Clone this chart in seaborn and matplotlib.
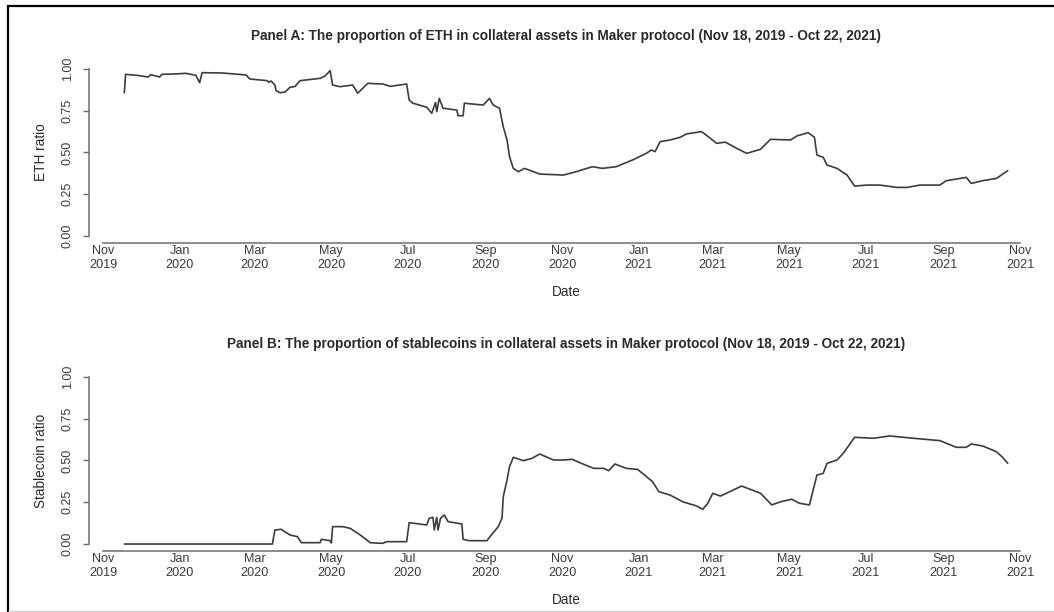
import matplotlib
matplotlib.use("Agg")
import matplotlib.pyplot as plt
import matplotlib.dates as mdates
from matplotlib.lines import Line2D
import pandas as pd
import seaborn as sns

# ---- data -------------------------------------------------------------
eth_dates = [
    "2019-11-18", "2019-11-19", "2019-11-28", "2019-12-07", "2019-12-09", "2019-12-16",
    "2019-12-18", "2019-12-28", "2020-01-06", "2020-01-14", "2020-01-17", "2020-01-19",
    "2020-02-04", "2020-02-14", "2020-02-23", "2020-02-26", "2020-03-11", "2020-03-12",
    "2020-03-14", "2020-03-17", "2020-03-18", "2020-03-21", "2020-03-25", "2020-03-29",
    "2020-04-02", "2020-04-06", "2020-04-22", "2020-04-26", "2020-04-30", "2020-05-02",
    "2020-05-08", "2020-05-18", "2020-05-22", "2020-05-30", "2020-06-11", "2020-06-17",
    "2020-06-30", "2020-07-02", "2020-07-05", "2020-07-16", "2020-07-20", "2020-07-23",
    "2020-07-24", "2020-07-26", "2020-07-29", "2020-08-09", "2020-08-10", "2020-08-14",
    "2020-08-15", "2020-08-30", "2020-09-04", "2020-09-07", "2020-09-12", "2020-09-15",
    "2020-09-18", "2020-09-20", "2020-09-23", "2020-09-27", "2020-10-02", "2020-10-14",
    "2020-11-02", "2020-11-12", "2020-11-25", "2020-12-03", "2020-12-14", "2020-12-27",
    "2021-01-07", "2021-01-11", "2021-01-14", "2021-01-18", "2021-01-26", "2021-02-03",
    "2021-02-08", "2021-02-20", "2021-02-25", "2021-03-04", "2021-03-11", "2021-03-20",
    "2021-03-28", "2021-04-08", "2021-04-16", "2021-05-02", "2021-05-07", "2021-05-16",
    "2021-05-21", "2021-05-23", "2021-05-28", "2021-05-31", "2021-06-08", "2021-06-16",
    "2021-06-22", "2021-07-02", "2021-07-12", "2021-07-26", "2021-08-03", "2021-08-13",
    "2021-08-29", "2021-09-03", "2021-09-19", "2021-09-23", "2021-10-02", "2021-10-13",
    "2021-10-17", "2021-10-22",
]
eth_ratio = [
    0.858, 0.968, 0.962, 0.952, 0.966, 0.952,
    0.968, 0.970, 0.974, 0.962, 0.918, 0.978,
    0.976, 0.970, 0.964, 0.940, 0.930, 0.920,
    0.928, 0.904, 0.870, 0.858, 0.862, 0.890,
    0.895, 0.930, 0.944, 0.958, 0.990, 0.904,
    0.894, 0.904, 0.855, 0.914, 0.910, 0.896,
    0.910, 0.814, 0.795, 0.771, 0.735, 0.800,
    0.745, 0.824, 0.765, 0.754, 0.720, 0.720,
    0.795, 0.784, 0.824, 0.784, 0.765, 0.654,
    0.575, 0.475, 0.405, 0.385, 0.405, 0.371,
    0.365, 0.385, 0.415, 0.405, 0.415, 0.455,
    0.495, 0.515, 0.505, 0.565, 0.575, 0.591,
    0.611, 0.625, 0.597, 0.555, 0.562, 0.525,
    0.495, 0.519, 0.579, 0.575, 0.599, 0.619,
    0.591, 0.485, 0.471, 0.425, 0.405, 0.365,
    0.299, 0.305, 0.305, 0.291, 0.291, 0.305,
    0.305, 0.331, 0.351, 0.315, 0.331, 0.345,
    0.365, 0.391,
]

stable_dates = [
    "2019-11-18", "2020-03-15", "2020-03-17", "2020-03-22", "2020-03-29", "2020-04-04",
    "2020-04-07", "2020-04-22", "2020-04-23", "2020-04-30", "2020-05-01", "2020-05-02",
    "2020-05-10", "2020-05-16", "2020-05-24", "2020-06-01", "2020-06-11", "2020-06-14",
    "2020-06-30", "2020-07-02", "2020-07-16", "2020-07-18", "2020-07-21", "2020-07-22",
    "2020-07-24", "2020-07-25", "2020-07-27", "2020-07-30", "2020-08-02", "2020-08-13",
    "2020-08-14", "2020-08-19", "2020-09-02", "2020-09-04", "2020-09-11", "2020-09-14",
    "2020-09-15", "2020-09-18", "2020-09-20", "2020-09-23", "2020-10-01", "2020-10-08",
    "2020-10-14", "2020-10-25", "2020-11-02", "2020-11-09", "2020-11-15", "2020-11-26",
    "2020-12-04", "2020-12-08", "2020-12-13", "2020-12-22", "2020-12-31", "2021-01-04",
    "2021-01-12", "2021-01-17", "2021-01-26", "2021-02-05", "2021-02-16", "2021-02-21",
    "2021-02-25", "2021-03-01", "2021-03-07", "2021-03-24", "2021-04-08", "2021-04-17",
    "2021-04-24", "2021-05-03", "2021-05-09", "2021-05-17", "2021-05-23", "2021-05-28",
    "2021-05-31", "2021-06-08", "2021-06-13", "2021-06-22", "2021-07-07", "2021-07-20",
    "2021-08-08", "2021-08-29", "2021-09-11", "2021-09-19", "2021-09-23", "2021-10-02",
    "2021-10-13", "2021-10-18", "2021-10-22",
]
stable_ratio = [
    0.000, 0.000, 0.084, 0.088, 0.054, 0.044,
    0.008, 0.008, 0.028, 0.020, 0.006, 0.104,
    0.104, 0.094, 0.054, 0.008, 0.004, 0.014,
    0.014, 0.128, 0.114, 0.154, 0.160, 0.084,
    0.160, 0.084, 0.154, 0.174, 0.134, 0.120,
    0.028, 0.020, 0.020, 0.040, 0.104, 0.154,
    0.283, 0.383, 0.463, 0.519, 0.499, 0.513,
    0.539, 0.503, 0.503, 0.507, 0.487, 0.453,
    0.453, 0.439, 0.479, 0.453, 0.447, 0.423,
    0.373, 0.313, 0.293, 0.253, 0.228, 0.208,
    0.244, 0.304, 0.287, 0.347, 0.304, 0.234,
    0.253, 0.268, 0.244, 0.234, 0.413, 0.423,
    0.483, 0.503, 0.543, 0.639, 0.633, 0.647,
    0.633, 0.619, 0.579, 0.579, 0.599, 0.587,
    0.553, 0.519, 0.483,
]

y_ticks = [0.00, 0.25, 0.50, 0.75, 1.00]
y_tick_labels = ["0.00", "0.25", "0.50", "0.75", "1.00"]

panel_titles = [
    "Panel A: The proportion of ETH in collateral assets in Maker protocol (Nov 18, 2019 - Oct 22, 2021)",
    "Panel B: The proportion of stablecoins in collateral assets in Maker protocol (Nov 18, 2019 - Oct 22, 2021)",
]
y_labels = ["ETH ratio", "Stablecoin ratio"]
x_label = "Date"

# ---- style ------------------------------------------------------------
sns.set_style("white")
plt.rcParams["font.family"] = ["Liberation Sans", "DejaVu Sans"]

W, H = 1054, 612
fig = plt.figure(figsize=(W / 100, H / 100), dpi=100)
fig.patch.set_facecolor("white")

line_col = "#3c3c3c"
axis_col = "#6e6e6e"
text_col = "#2a2a2a"
tick_col = "#3a3a3a"

eth_df = pd.DataFrame({"date": pd.to_datetime(eth_dates), "ratio": eth_ratio})
stable_df = pd.DataFrame({"date": pd.to_datetime(stable_dates), "ratio": stable_ratio})

start = eth_df["date"].min()
end = eth_df["date"].max()
span = end - start
xlim = (start - 0.04 * span, end + 0.04 * span)
tick_dates = pd.date_range("2019-11-01", "2021-11-01", freq="2MS")

# pixel geometry of the two plot regions
left_px, right_px = 89, 1043
regions = [(62.3, 242.7), (370.3, 550.7)]
label_x_px = 41

for i, (df, (top_px, bot_px)) in enumerate(zip([eth_df, stable_df], regions)):
    ax = fig.add_axes([left_px / W, 1 - bot_px / H,
                       (right_px - left_px) / W, (bot_px - top_px) / H])
    sns.lineplot(data=df, x="date", y="ratio", ax=ax, color=line_col,
                 linewidth=1.2, estimator=None)
    ax.set_xlim(*xlim)
    ax.set_ylim(-0.04, 1.04)

    for s in ["top", "right"]:
        ax.spines[s].set_visible(False)
    for s in ["left", "bottom"]:
        ax.spines[s].set_color(axis_col)
        ax.spines[s].set_linewidth(1.1)
    ax.spines["left"].set_bounds(0, 1)
    ax.spines["bottom"].set_bounds(mdates.date2num(tick_dates[0]),
                                   mdates.date2num(tick_dates[-1]))

    ax.set_xticks(tick_dates)
    ax.set_xticklabels([d.strftime("%b\n%Y") for d in tick_dates],
                       fontsize=9.1, color=tick_col, linespacing=1.2)
    ax.tick_params(axis="x", length=0, pad=1.5)

    ax.set_yticks(y_ticks)
    ax.set_yticklabels(y_tick_labels, rotation=90, va="center",
                       fontsize=9.0, color=tick_col)
    ax.tick_params(axis="y", length=4, width=1.0, color=axis_col, pad=7.0,
                   direction="out", left=True)

    ax.set_title(panel_titles[i], fontsize=9.8, fontweight="bold",
                 color=text_col, pad=16.0)
    ax.set_ylabel(y_labels[i], fontsize=9.8, color=text_col, va="center")
    ax.yaxis.set_label_coords((label_x_px - left_px) / (right_px - left_px), 0.5)
    ax.set_xlabel(x_label, fontsize=9.8, color=text_col, va="center")
    ax.xaxis.set_label_coords(0.5, -49 / (bot_px - top_px))
    ax.grid(False)

# outer frame: heavy top and left rules, faint bottom rule
def px_line(x0, y0, x1, y1, color, lw):
    fig.add_artist(Line2D([x0 / W, x1 / W], [1 - y0 / H, 1 - y1 / H],
                          transform=fig.transFigure, color=color, linewidth=lw,
                          solid_capstyle="butt"))

px_line(7, 5.5, W, 5.5, "black", 1.6)
px_line(8, 4.7, 8, H, "black", 1.6)
px_line(8, 610.5, W, 610.5, "#cfcfcf", 0.8)

fig.savefig("out.png", dpi=100, facecolor="white")
